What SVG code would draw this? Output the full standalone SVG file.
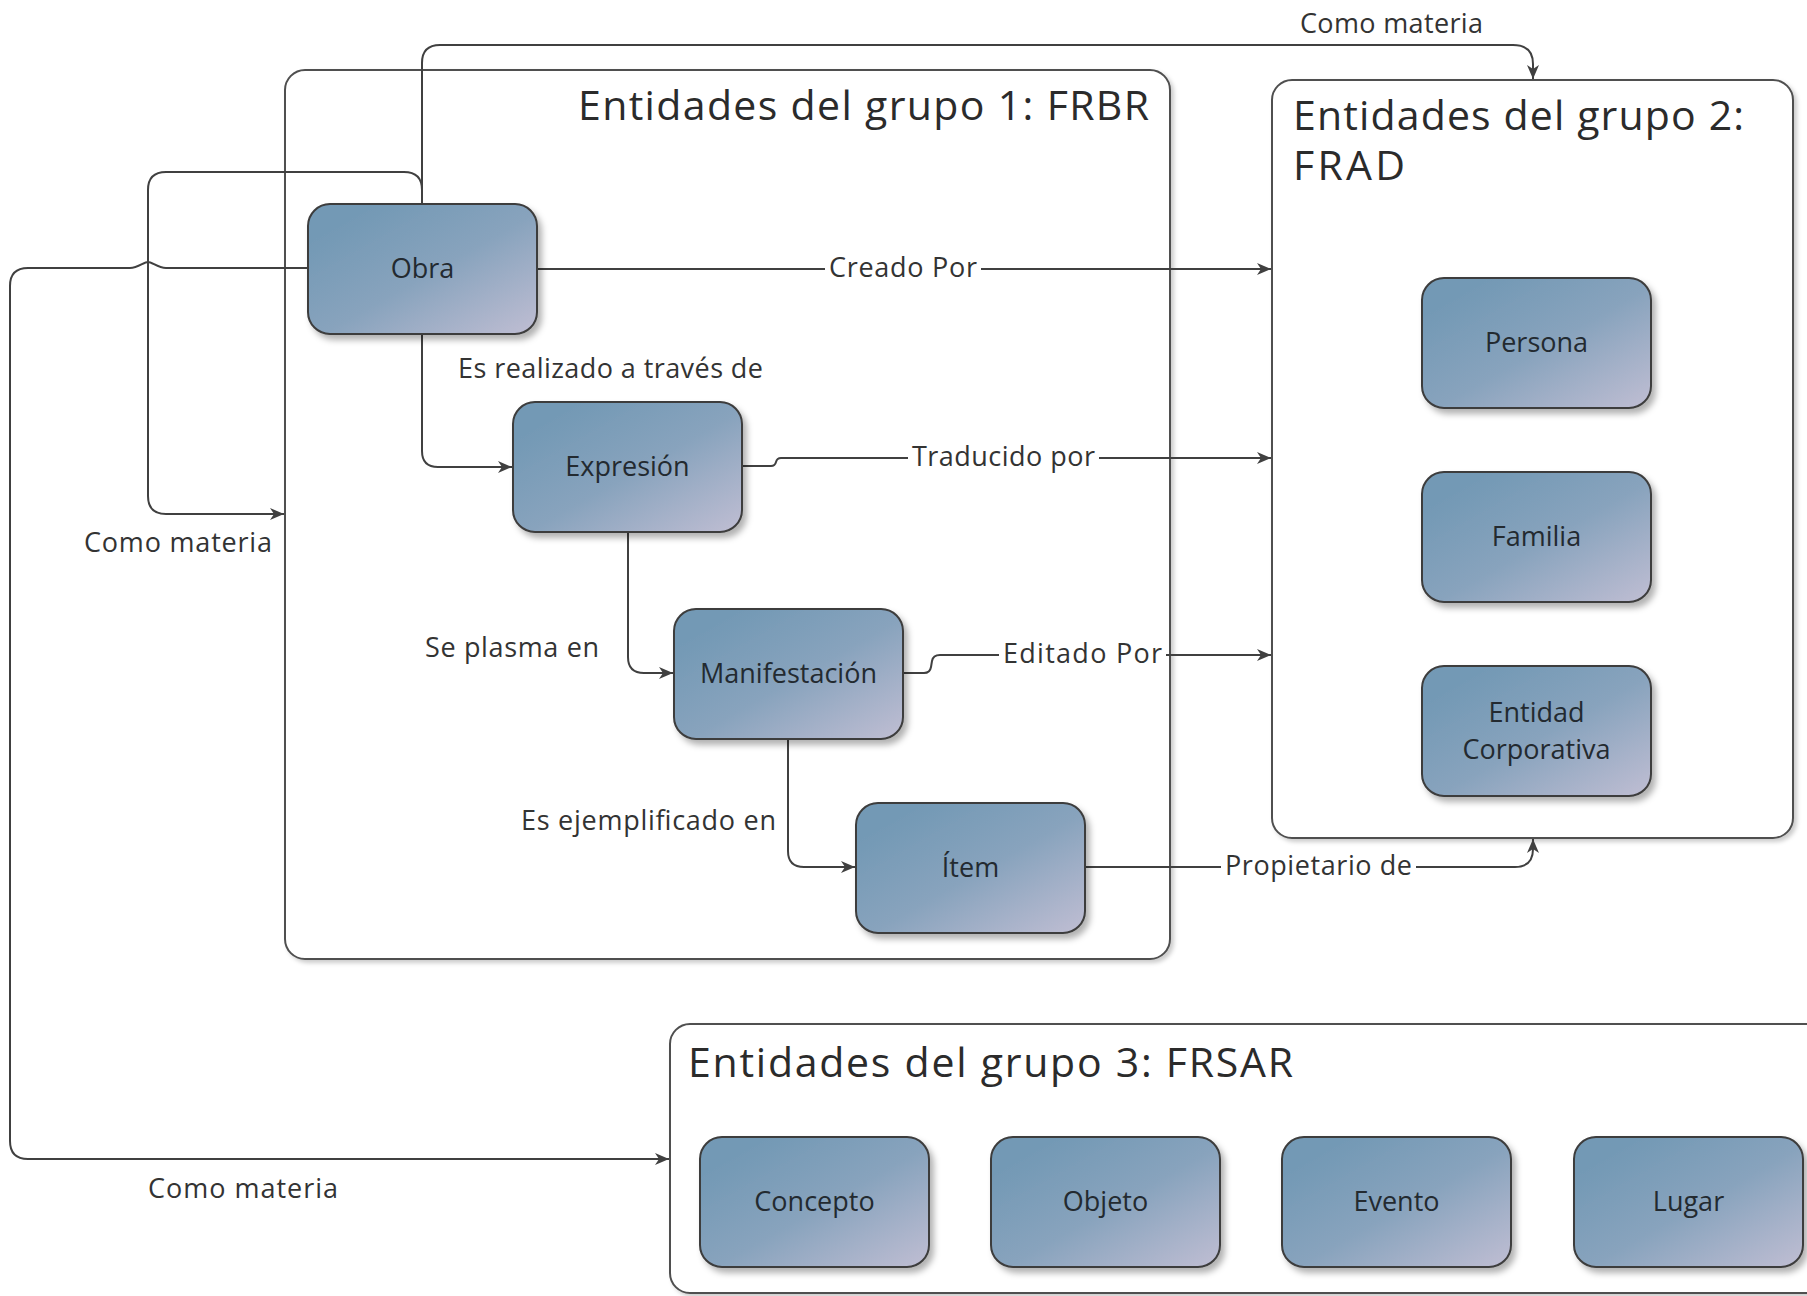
<svg xmlns="http://www.w3.org/2000/svg" width="1807" height="1296" viewBox="0 0 1807 1296">
<style>
  .grp { fill: #ffffff; stroke: #505050; stroke-width: 2; filter: url(#gshadow); }
  .title { font-family: "Open Sans", "Noto Sans", "DejaVu Sans", sans-serif; font-size: 41px; fill: #2b2b2b; }
  .node { fill: url(#nodeGrad); stroke: #3c3c3c; stroke-width: 2; filter: url(#nshadow); }
  .ntext { font-family: "Open Sans", "Noto Sans", "DejaVu Sans", sans-serif; font-size: 27px; fill: #232a30; text-anchor: middle; }
  .conn { fill: none; stroke: #404040; stroke-width: 2; }
  .arr { marker-end: url(#arrow); }
  .lbl { font-family: "Open Sans", "Noto Sans", "DejaVu Sans", sans-serif; font-size: 27px; fill: #333333; }
  .lblbg { fill: #ffffff; stroke: none; }
</style>
<defs>
  <linearGradient id="nodeGrad" x1="0.15" y1="0.15" x2="1" y2="1">
    <stop offset="0" stop-color="#7399b5"/>
    <stop offset="0.45" stop-color="#88a3bd"/>
    <stop offset="1" stop-color="#c0bed3"/>
  </linearGradient>
  <filter id="nshadow" x="-10%" y="-10%" width="130%" height="135%">
    <feDropShadow dx="4" dy="5" stdDeviation="3" flood-color="#000000" flood-opacity="0.3"/>
  </filter>
  <filter id="gshadow" x="-5%" y="-5%" width="112%" height="112%">
    <feDropShadow dx="3" dy="3" stdDeviation="2" flood-color="#000000" flood-opacity="0.2"/>
  </filter>
  <marker id="arrow" markerUnits="userSpaceOnUse" markerWidth="16" markerHeight="14" refX="14" refY="6" orient="auto">
    <path d="M0,0 L14,6 L0,12 L4,6 z" fill="#404040"/>
  </marker>
</defs>

<!-- Groups -->
<g id="group1">
  <rect class="grp" x="285" y="70" width="885" height="889" rx="20" ry="20"/>
  <text class="title" x="578" y="120" textLength="571">Entidades del grupo 1: FRBR</text>
</g>
<g id="group2">
  <rect class="grp" x="1272" y="80" width="521" height="758" rx="20" ry="20"/>
  <text class="title" x="1293" y="130" textLength="451">Entidades del grupo 2:</text>
  <text class="title" x="1293" y="180" textLength="112">FRAD</text>
</g>
<g id="group3">
  <rect class="grp" x="670" y="1024" width="1180" height="269" rx="20" ry="20"/>
  <text class="title" x="688" y="1077" textLength="605">Entidades del grupo 3: FRSAR</text>
</g>

<!-- Connectors -->
<g id="connectors">
  <!-- Obra -> Grupo 2 (Como materia, top) -->
  <path class="conn arr" d="M422,204 V63 Q422,45 440,45 H1513 Q1533,45 1533,64 V79"/>
  <!-- Obra -> Grupo 1 (Como materia, left) -->
  <path class="conn arr" d="M422,204 V190 Q422,172 404,172 H166 Q148,172 148,190 V496 Q148,514 166,514 H284"/>
  <!-- Obra -> Grupo 3 (Como materia, bottom) -->
  <path class="conn arr" d="M308,268 H166 C158,268 152,262 148,262 C144,262 138,268 130,268 H28 Q10,268 10,286 V1141 Q10,1159 28,1159 H669"/>
  <!-- Obra -> Grupo 2 Creado Por -->
  <path class="conn arr" d="M536,269 H1271"/>
  <!-- Expresion -> Grupo 2 Traducido por -->
  <path class="conn arr" d="M742,466 H771 Q775,466 776,462 Q777,458 781,458 H1271"/>
  <!-- Manifestacion -> Grupo 2 Editado Por -->
  <path class="conn arr" d="M902,673 H924 Q930,673 931,667 L932,661 Q933,655 940,655 H1271"/>
  <!-- Item -> Grupo 2 Propietario de -->
  <path class="conn arr" d="M1086,867 H1515 Q1533,867 1533,849 V839"/>
  <!-- Obra -> Expresion -->
  <path class="conn arr" d="M422,334 V451 Q422,467 438,467 H512"/>
  <!-- Expresion -> Manifestacion -->
  <path class="conn arr" d="M628,532 V657 Q628,673 644,673 H673"/>
  <!-- Manifestacion -> Item -->
  <path class="conn arr" d="M788,739 V851 Q788,867 804,867 H855"/>

  <rect class="lblbg" x="825" y="254" width="156" height="28"/>
  <text class="lbl" x="829" y="277" textLength="148">Creado Por</text>
  <rect class="lblbg" x="908" y="443" width="191" height="28"/>
  <text class="lbl" x="912" y="466" textLength="183">Traducido por</text>
  <rect class="lblbg" x="999" y="640" width="167" height="28"/>
  <text class="lbl" x="1003" y="663" textLength="159">Editado Por</text>
  <rect class="lblbg" x="1221" y="852" width="195" height="28"/>
  <text class="lbl" x="1225" y="875" textLength="187">Propietario de</text>

  <text class="lbl" x="458" y="378" textLength="305">Es realizado a través de</text>
  <text class="lbl" x="425" y="657" textLength="174">Se plasma en</text>
  <text class="lbl" x="521" y="830" textLength="255">Es ejemplificado en</text>
  <text class="lbl" x="1300" y="33" textLength="183">Como materia</text>
  <text class="lbl" x="84" y="552" textLength="188">Como materia</text>
  <text class="lbl" x="148" y="1198" textLength="190">Como materia</text>
</g>

<!-- Nodes -->
<g id="obra">
  <rect class="node" x="308" y="204" width="229" height="130" rx="22" ry="22"/>
  <text class="ntext" x="422.5" y="278">Obra</text>
</g>
<g id="expresion">
  <rect class="node" x="513" y="402" width="229" height="130" rx="22" ry="22"/>
  <text class="ntext" x="627.5" y="476">Expresión</text>
</g>
<g id="manifestacion">
  <rect class="node" x="674" y="609" width="229" height="130" rx="22" ry="22"/>
  <text class="ntext" x="788.5" y="683">Manifestación</text>
</g>
<g id="item">
  <rect class="node" x="856" y="803" width="229" height="130" rx="22" ry="22"/>
  <text class="ntext" x="970.5" y="877">Ítem</text>
</g>
<g id="persona">
  <rect class="node" x="1422" y="278" width="229" height="130" rx="22" ry="22"/>
  <text class="ntext" x="1536.5" y="352">Persona</text>
</g>
<g id="familia">
  <rect class="node" x="1422" y="472" width="229" height="130" rx="22" ry="22"/>
  <text class="ntext" x="1536.5" y="546">Familia</text>
</g>
<g id="entidad-corporativa">
  <rect class="node" x="1422" y="666" width="229" height="130" rx="22" ry="22"/>
  <text class="ntext" x="1536.5" y="722">Entidad</text>
  <text class="ntext" x="1536.5" y="759">Corporativa</text>
</g>
<g id="concepto">
  <rect class="node" x="700" y="1137" width="229" height="130" rx="22" ry="22"/>
  <text class="ntext" x="814.5" y="1211">Concepto</text>
</g>
<g id="objeto">
  <rect class="node" x="991" y="1137" width="229" height="130" rx="22" ry="22"/>
  <text class="ntext" x="1105.5" y="1211">Objeto</text>
</g>
<g id="evento">
  <rect class="node" x="1282" y="1137" width="229" height="130" rx="22" ry="22"/>
  <text class="ntext" x="1396.5" y="1211">Evento</text>
</g>
<g id="lugar">
  <rect class="node" x="1574" y="1137" width="229" height="130" rx="22" ry="22"/>
  <text class="ntext" x="1688.5" y="1211">Lugar</text>
</g>
</svg>
